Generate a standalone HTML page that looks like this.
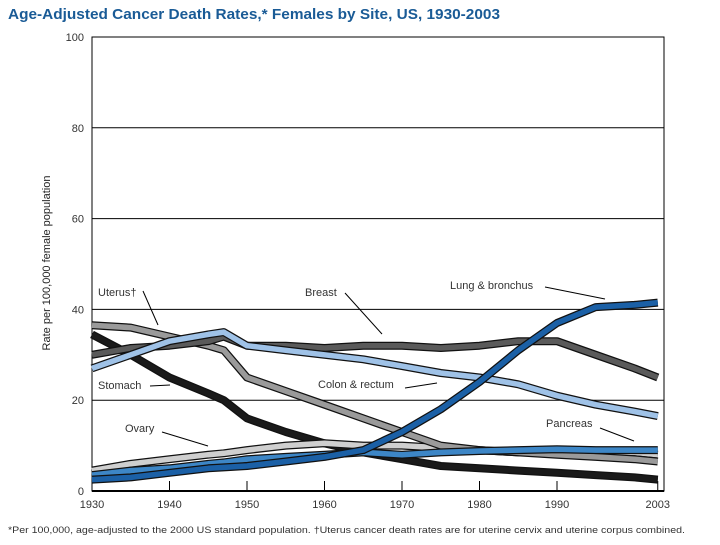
<!DOCTYPE html>
<html><head><meta charset="utf-8"><style>
body{margin:0;background:#fff;font-family:"Liberation Sans",sans-serif}
</style></head><body>
<svg width="720" height="540" viewBox="0 0 720 540" xmlns="http://www.w3.org/2000/svg" font-family="Liberation Sans, sans-serif">
<text x="8" y="19" font-size="15" font-weight="bold" fill="#1a5b96" textLength="492" lengthAdjust="spacingAndGlyphs">Age-Adjusted Cancer Death Rates,* Females by Site, US, 1930-2003</text>
<g id="grid"></g>
<g id="series"></g>
<g id="labels" font-size="11" fill="#333"></g>
<text transform="translate(50,263) rotate(-90)" text-anchor="middle" font-size="11" fill="#222">Rate per 100,000 female population</text>
<text x="8" y="533" font-size="9" fill="#333" textLength="677" lengthAdjust="spacingAndGlyphs">*Per 100,000, age-adjusted to the 2000 US standard population. †Uterus cancer death rates are for uterine cervix and uterine corpus combined.</text>
</svg>
<script>
const years=[1930,1935,1940,1945,1947,1950,1955,1960,1965,1970,1975,1980,1985,1990,1995,2000,2003];
const lung=[2.5,3,4,5,5.2,5.5,6.5,7.5,9,13,18,24,31,37,40.5,41,41.5];
const breast=[30,31.5,32,33,34,32,32,31.5,32,32,31.5,32,33,33,30,27,25];
const colon=[27,30,33,34.5,35,32,31,30,29,27.5,26,25,23.5,21,19,17.5,16.5];
const uterus=[36.5,36,34,32,31,25,22,19,16,13,10,9,8.5,8,7.5,7,6.5];
const stomach=[34.5,30,25,21.5,20,16,13,10.5,8.5,7,5.5,5,4.5,4,3.5,3,2.5];
const ovary=[4.5,6,7,8,8.3,9,10,10.5,10,10,9.5,9,8.5,8.5,8.5,8.5,8];
const pancreas=[3.5,4.5,5,6,6.3,7,7.5,8,8.5,8,8.5,8.8,9,9.2,9,9,9];
const yTicks=[0,20,40,60,80,100];
const xTicks=[1930,1940,1950,1960,1970,1980,1990,2003];
const L=92,R=664,T=37,B=491;
const x=v=>L+(v-1930)*7.75;
const y=v=>B-v*(B-T)/100;
const NS='http://www.w3.org/2000/svg';
function mk(tag,attrs,parent){const e=document.createElementNS(NS,tag);for(const k in attrs)e.setAttribute(k,attrs[k]);parent.appendChild(e);return e;}
const grid=document.getElementById('grid');
yTicks.forEach(t=>{
 const ln=mk('line',{x1:L,x2:R,y1:y(t),y2:y(t),stroke:'#000','stroke-width':t==0?2:1},grid);
 
 
 const tx=mk('text',{x:L-8,y:y(t)+4,'text-anchor':'end','font-size':11,fill:'#333'},grid);
 tx.textContent=t;
 
 
});
const fr=mk('rect',{x:L,y:T,width:R-L,height:B-T,fill:'none',stroke:'#000','stroke-width':1},grid);


xTicks.forEach(t=>{
 const tk=mk('line',{x1:x(t),x2:x(t),y1:B,y2:B-10,stroke:'#000','stroke-width':1},grid);
 
 
 const tx=mk('text',{x:x(t),y:B+17,'text-anchor':'middle','font-size':11,fill:'#333'},grid);
 tx.textContent=t;
 
 
});
const ser=document.getElementById('series');
function draw(name,vals,color){
 const d=vals.map((v,i)=>(i?'L':'M')+x(years[i]).toFixed(1)+','+y(v).toFixed(1)).join(' ');
 const o=mk('path',{d:d,fill:'none',stroke:'#111','stroke-width':8,'stroke-linejoin':'round'},ser);
 
 
 const p=mk('path',{d:d,fill:'none',stroke:color,'stroke-width':5.5,'stroke-linejoin':'round'},ser);
 
 
}
draw('stomach',stomach,'#1a1a1a');
draw('ovary',ovary,'#cfcfcf');
draw('uterus',uterus,'#9a9a9a');
draw('pancreas',pancreas,'#3d86c6');
draw('breast',breast,'#5a5a5a');
draw('colon',colon,'#9fc2e7');
draw('lung',lung,'#1b60a6');
const lab=document.getElementById('labels');
function label(name,text,tx,ty,x1,y1,x2,y2){
 const t=mk('text',{x:tx,y:ty},lab);t.textContent=text;
 
 
 const l=mk('line',{x1:x1,y1:y1,x2:x2,y2:y2,stroke:'#000','stroke-width':1},lab);
 
 
}
label('uterus','Uterus†',98,296,143,291,158,325);
label('breast','Breast',305,296,345,293,382,334);
label('lung','Lung & bronchus',450,289,545,287,605,299);
label('stomach','Stomach',98,389,150,386,170,385);
label('colon','Colon & rectum',318,388,405,388,437,383);
label('ovary','Ovary',125,432,162,432,208,446);
label('pancreas','Pancreas',546,427,600,428,634,441);
</script>
</body></html>
